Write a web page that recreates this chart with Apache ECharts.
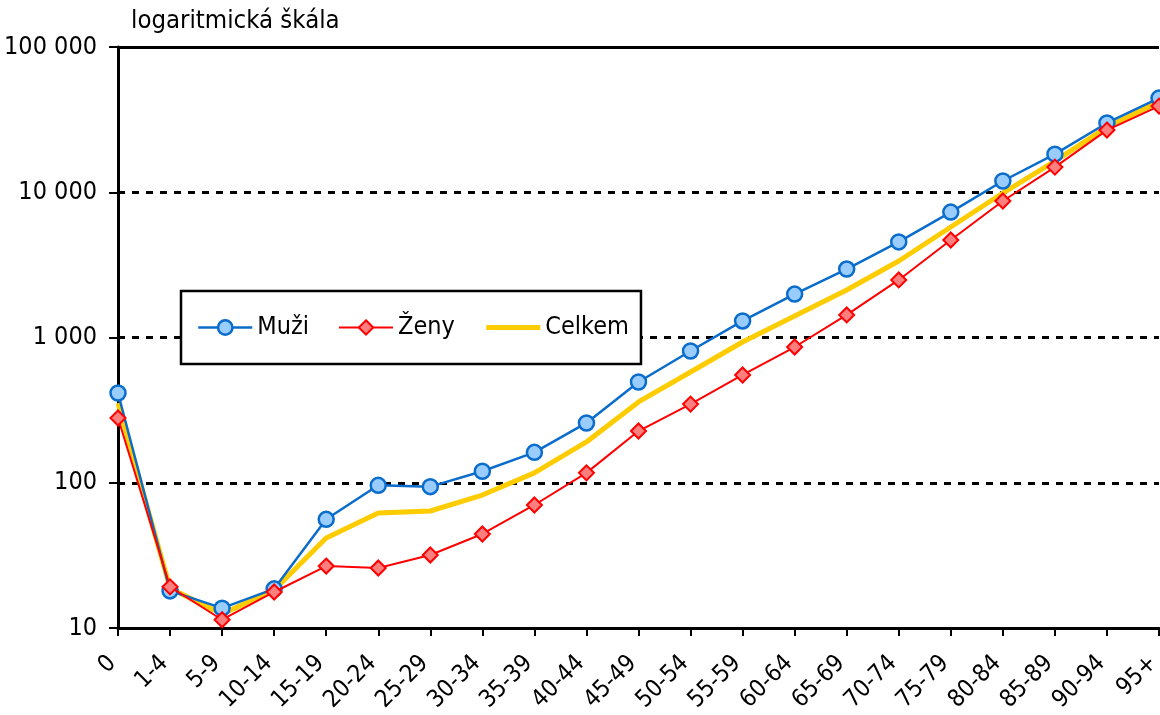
<!DOCTYPE html>
<html>
<head>
<meta charset="utf-8">
<script src="https://cdn.jsdelivr.net/npm/echarts@6/dist/echarts.min.js"></script>
<style>html,body{margin:0;padding:0;background:#fff}#c{width:1160px;height:715px}</style>
</head>
<body>
<div id="c"></div>
<script>
const categories = ['0','1-4','5-9','10-14','15-19','20-24','25-29','30-34','35-39','40-44','45-49','50-54','55-59','60-64','65-69','70-74','75-79','80-84','85-89','90-94','95+'];
const muzi = [415, 18.0, 13.7, 18.6, 56, 96, 94, 120, 162, 258, 494, 807, 1300, 1990, 2960, 4550, 7300, 11950, 18300, 30000, 44500];
const zeny = [279, 19.2, 11.4, 17.7, 26.7, 25.9, 31.8, 44.4, 70.3, 117, 227, 348, 552, 860, 1430, 2490, 4690, 8700, 14900, 26800, 39200];
const celkem = [354, 18.8, 12.5, 18.3, 41.7, 61.9, 63.9, 82.3, 117, 191, 360, 579, 931, 1406, 2123, 3363, 5766, 9880, 16400, 28100, 41800];
const yTicks = [10, 100, 1000, 10000, 100000];
const yTitle = 'logaritmická škála';

const FONT = "'Liberation Sans Narrow', 'Arial Narrow', 'DejaVu Sans Condensed', 'Liberation Sans', sans-serif";
const fmt = v => String(Math.round(v)).replace(/\B(?=(\d{3})+(?!\d))/g, ' ');

const chart = echarts.init(document.getElementById('c'));
chart.setOption({
  animation: false,
  backgroundColor: '#fff',
  textStyle: { fontFamily: FONT, color: '#000' },
  graphic: [{ type: 'text', left: 131, top: 8, style: { text: yTitle, font: '25.5px ' + FONT, fill: '#000' } }],
  grid: { left: 118, right: 1, top: 47, bottom: 87, containLabel: false, outerBoundsMode: 'none' },
  legend: {
    data: [
      { name: 'Muži', lineStyle: { width: 2.5 }, itemStyle: { borderWidth: 2.5 } },
      { name: 'Ženy', lineStyle: { width: 2 }, itemStyle: { borderWidth: 2 } },
      { name: 'Celkem', lineStyle: { width: 5 }, itemStyle: { color: 'rgba(0,0,0,0)', borderColor: 'rgba(0,0,0,0)', borderWidth: 0 } }
    ],
    left: 181, top: 291,
    orient: 'horizontal',
    borderColor: '#000', borderWidth: 2.5,
    padding: [24, 12, 24, 16],
    itemWidth: 54, itemHeight: 18, itemGap: 29,
    textStyle: { fontFamily: FONT, fontSize: 25, color: '#000' },
    backgroundColor: '#fff'
  },
  xAxis: {
    type: 'category', data: categories, boundaryGap: false,
    axisLine: { lineStyle: { color: '#000', width: 3 } },
    axisTick: { show: true, length: 8, lineStyle: { color: '#000', width: 2 }, alignWithLabel: true, interval: 0 },
    axisLabel: { interval: 0, rotate: 45, fontSize: 24, color: '#000', fontFamily: FONT, margin: 26, padding: [0, 8, 0, 0] },
    splitLine: { show: false }
  },
  yAxis: {
    type: 'log', logBase: 10, min: yTicks[0], max: yTicks[yTicks.length - 1],
    axisLine: { show: true, lineStyle: { color: '#000', width: 3 } },
    axisTick: { show: true, length: 9, lineStyle: { color: '#000', width: 2 } },
    axisLabel: { fontSize: 25, color: '#000', fontFamily: FONT, margin: 21, formatter: fmt },
    splitLine: { show: true, lineStyle: { color: '#000', width: 3, type: [7, 7] } }
  },
  series: [
    {
      name: 'Celkem', type: 'line', data: celkem, z: 1, showSymbol: false, symbol: 'none',
      lineStyle: { color: '#FFCC00', width: 5 }, itemStyle: { color: '#FFCC00' },
      markLine: { silent: true, symbol: 'none', label: { show: false },
        lineStyle: { color: '#000', width: 3, type: 'solid' }, data: [{ yAxis: yTicks[yTicks.length - 1] }] }
    },
    {
      name: 'Muži', type: 'line', data: muzi, z: 3, symbol: 'circle', symbolSize: 15,
      lineStyle: { color: '#0A6CCB', width: 2.5 },
      itemStyle: { color: '#99CCFF', borderColor: '#0A6CCB', borderWidth: 2.5 }
    },
    {
      name: 'Ženy', type: 'line', data: zeny, z: 4, symbol: 'diamond', symbolSize: 15,
      lineStyle: { color: '#FF0000', width: 2 },
      itemStyle: { color: '#FF7F7F', borderColor: '#FF0000', borderWidth: 2 }
    }
  ]
});
</script>
</body>
</html>
